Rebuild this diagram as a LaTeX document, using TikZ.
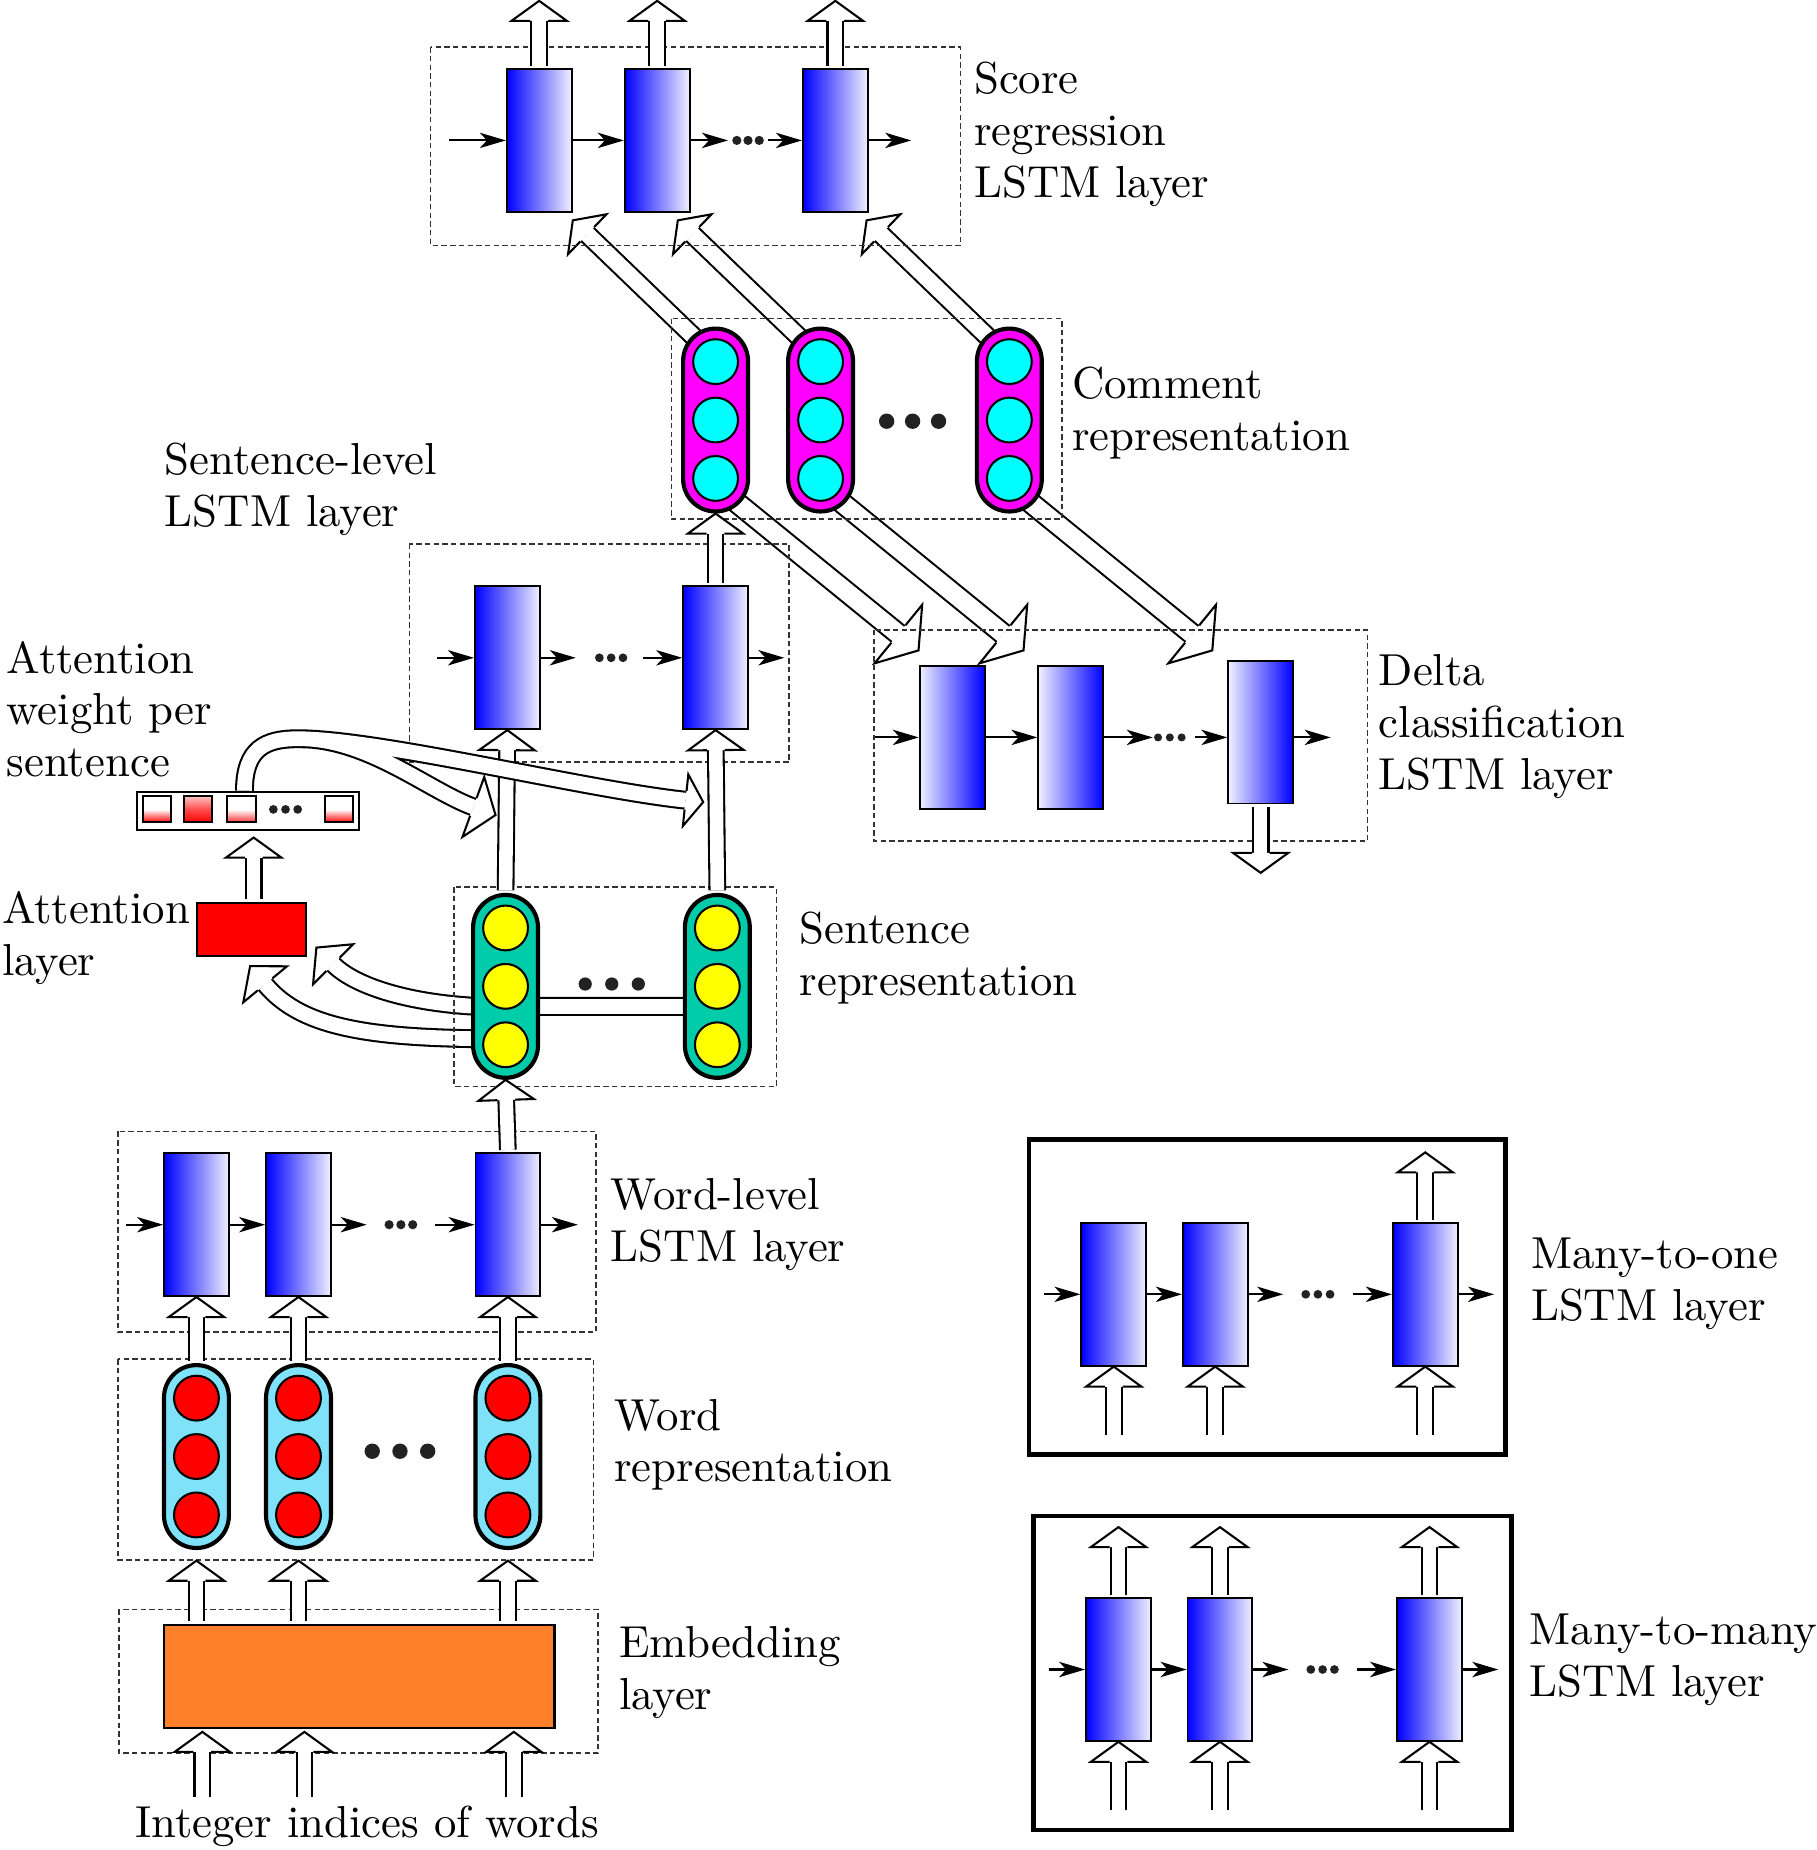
\documentclass[tikz,border=0pt]{standalone}
\usepackage{tikz}
\usetikzlibrary{positioning,calc,arrows.meta,backgrounds}

\definecolor{pillmag}{RGB}{255,0,255}
\definecolor{unitcyan}{RGB}{0,255,255}
\definecolor{pillgreen}{RGB}{0,204,170}
\definecolor{unityellow}{RGB}{255,255,0}
\definecolor{pillblue}{RGB}{128,226,248}
\definecolor{unitred}{RGB}{255,0,0}
\definecolor{embor}{RGB}{255,128,42}
\definecolor{dotgray}{RGB}{34,34,34}

\tikzset{
  lstmcell/.style={draw, line width=0.45pt, minimum width=5.5mm, minimum height=12.1mm, inner sep=0pt, left color=blue, right color=blue!6},
  deltacell/.style={lstmcell, left color=blue!6, right color=blue},
  vecpill/.style={draw, line width=1pt, rounded corners=2.75mm, minimum width=5.5mm, minimum height=15.5mm, inner sep=0pt, fill=#1},
  neuron/.style={circle, draw, line width=0.5pt, minimum size=3.8mm, inner sep=0pt, fill=#1},
  groupbox/.style={draw=black!80, line width=0.4pt, dash pattern=on 1.3pt off 0.8pt},
  framebox/.style={draw, line width=1.1pt},
  flow/.style={line width=0.5pt, -{Stealth[length=2.2mm, width=1.3mm, inset=0.6mm]}},
  lbl/.style={font=\fontsize{10.8pt}{12.5pt}\selectfont, align=left, inner sep=0pt},
  wsq/.style={draw, line width=0.5pt, minimum width=2.4mm, minimum height=2.2mm, inner sep=0pt},
}

\newcommand{\shaftw}{0.75mm}
\newcommand{\headw}{2.35mm}
\newcommand{\headl}{1.7mm}
\newcommand{\hollowhead}[2]{%
  \coordinate (hb) at ($(#1)!\headl!(#2)$);
  \path[draw, fill=white, line width=0.5pt]
    ($(hb)!\shaftw!90:(#2)$) -- ($(hb)!\headw!90:(#2)$) -- (#1)
    -- ($(hb)!\headw!-90:(#2)$) -- ($(hb)!\shaftw!-90:(#2)$);
}
\newcommand{\hollowarrow}[2]{%
  \coordinate (hb) at ($(#2)!\headl!(#1)$);
  \draw[line width=2*\shaftw, shorten <=0.6pt] (#1) -- (hb);
  \draw[white, line width=2*\shaftw-1pt, shorten <=0.6pt] (#1) -- (hb);
  \hollowhead{#2}{#1}}

\begin{document}
\begin{tikzpicture}[x=0.1mm, y=0.1mm]
\useasboundingbox (0,0) rectangle (1540,-1568);

% layer frames
\draw[groupbox] (365,-40) rectangle (814,-208);
\draw[groupbox] (569,-270) rectangle (900,-440);
\draw[groupbox] (347,-461) rectangle (669,-646);
\draw[groupbox] (741,-534) rectangle (1159,-713);
\draw[groupbox] (385,-752) rectangle (658,-921);
\draw[groupbox] (100,-959) rectangle (505,-1129);
\draw[groupbox] (100,-1152) rectangle (503,-1322);
\draw[groupbox] (101,-1364) rectangle (507,-1486);
\draw[framebox] (872,-966) rectangle (1276,-1233);
\draw[framebox] (876,-1285) rectangle (1281,-1551);

% score regression LSTM layer
\node[lstmcell] (s1) at (457,-119) {};
\node[lstmcell] (s2) at (557,-119) {};
\node[lstmcell] (s3) at (708,-119) {};
\coordinate (sdots) at (634,-119);
\foreach \d in {-1,0,1} \fill[dotgray] ($(sdots)+(\d*9.5,0)$) circle (0.39mm);
\draw[flow] ($(s1.west)+(-48,0)$) -- (s1.west);
\draw[flow] (s1.east) -- (s2.west);
\draw[flow] (s2.east) -- ($(sdots)+(-17,0)$);
\draw[flow] ($(sdots)+(17,0)$) -- (s3.west);
\draw[flow] (s3.east) -- ++(36,0);

% comment representation
\node[vecpill=pillmag] (c1) at (606.5,-356) {};
\node[vecpill=pillmag] (c2) at (695.5,-356) {};
\node[vecpill=pillmag] (c3) at (855.5,-356) {};
\foreach \v in {c1,c2,c3} \foreach \k in {1,2,3}
  \node[neuron=unitcyan] (\v u\k) at ($(\v.center)+(0,{99-49.5*\k})$) {};
\coordinate (cdots) at (773.5,-357);
\foreach \d in {-1,0,1} \fill[dotgray] ($(cdots)+(\d*22,0)$) circle (0.65mm);

% sentence-level LSTM layer
\node[lstmcell] (sA) at (430,-557.5) {};
\node[lstmcell] (sB) at (606.5,-557.5) {};
\coordinate (sldots) at (518,-557.5);
\foreach \d in {-1,0,1} \fill[dotgray] ($(sldots)+(\d*10,0)$) circle (0.37mm);
\draw[flow] ($(sA.west)+(-31,0)$) -- (sA.west);
\draw[flow] (sA.east) -- ($(sldots)+(-30,0)$);
\draw[flow] ($(sldots)+(27,0)$) -- (sB.west);
\draw[flow] (sB.east) -- ++(30,0);

% delta classification LSTM layer
\node[deltacell] (d1) at (807,-625) {};
\node[deltacell] (d2) at (907.5,-625) {};
\node[deltacell] (d3) at (1068.5,-620.5) {};
\coordinate (ddots) at (991.5,-625);
\foreach \d in {-1,0,1} \fill[dotgray] ($(ddots)+(\d*10,0)$) circle (0.34mm);
\draw[flow] ($(d1.west)+(-37,0)$) -- (d1.west);
\draw[flow] (d1.east) -- (d2.west);
\draw[flow] (d2.east) -- ($(ddots)+(-14.5,0)$);
\draw[flow] ($(ddots)+(21.5,0)$) -- (d3.west |- ddots);
\draw[flow] (d3.east |- ddots) -- ++(31,0);

% sentence representation
\node[vecpill=pillgreen] (pA) at (428.5,-836) {};
\node[vecpill=pillgreen] (pB) at (608,-836) {};
\foreach \v in {pA,pB} \foreach \k in {1,2,3}
  \node[neuron=unityellow] (\v u\k) at ($(\v.center)+(0,{99-49.5*\k})$) {};
\coordinate (pdots) at (518.5,-834);
\foreach \d in {-1,0,1} \fill[dotgray] ($(pdots)+(\d*22.5,0)$) circle (0.56mm);

% attention
\node[draw, line width=0.5pt, fill=red, minimum width=9.26mm, minimum height=4.53mm, inner sep=0pt] (attn) at (213,-787.6) {};
\node[draw, line width=0.5pt, fill=white, minimum width=18.87mm, minimum height=3.24mm, inner sep=0pt] (wbox) at (210.2,-687.2) {};
\node[wsq, top color=white, bottom color=red, middle color=white] (q1) at (133,-686) {};
\node[wsq, top color=red!25, bottom color=red, middle color=red!70] (q2) at (168,-686) {};
\node[wsq, top color=white, bottom color=red!80, middle color=white] (q3) at (204.6,-686) {};
\node[wsq, top color=white, bottom color=red, middle color=white] (q4) at (287.2,-686) {};
\coordinate (qdots) at (242,-686);
\foreach \d in {-1,0,1} \fill[dotgray] ($(qdots)+(\d*10.3,0)$) circle (0.37mm);

% word-level LSTM layer
\node[lstmcell] (w1) at (166.5,-1038) {};
\node[lstmcell] (w2) at (253,-1038) {};
\node[lstmcell] (w3) at (430.5,-1038) {};
\coordinate (wdots) at (339.8,-1038);
\foreach \d in {-1,0,1} \fill[dotgray] ($(wdots)+(\d*10,0)$) circle (0.39mm);
\draw[flow] ($(w1.west)+(-31,0)$) -- (w1.west);
\draw[flow] (w1.east) -- (w2.west);
\draw[flow] (w2.east) -- ($(wdots)+(-29,0)$);
\draw[flow] ($(wdots)+(29,0)$) -- (w3.west);
\draw[flow] (w3.east) -- ++(31,0);

% word representation
\node[vecpill=pillblue] (p1) at (166.5,-1234.5) {};
\node[vecpill=pillblue] (p2) at (253,-1234.5) {};
\node[vecpill=pillblue] (p3) at (430.5,-1234.5) {};
\foreach \v in {p1,p2,p3} \foreach \k in {1,2,3}
  \node[neuron=unitred] (\v u\k) at ($(\v.center)+(0,{99-49.5*\k})$) {};
\coordinate (rdots) at (339,-1230);
\foreach \d in {-1,0,1} \fill[dotgray] ($(rdots)+(\d*23.5,0)$) circle (0.65mm);

% embedding layer
\node[draw, line width=0.5pt, fill=embor, minimum width=33.1mm, minimum height=8.75mm, inner sep=0pt] (emb) at (304.5,-1420.75) {};

% many-to-one
\node[lstmcell] (m1) at (944,-1097) {};
\node[lstmcell] (m2) at (1030,-1097) {};
\node[lstmcell] (m3) at (1208,-1097) {};
\coordinate (odots) at (1117,-1097);
\foreach \d in {-1,0,1} \fill[dotgray] ($(odots)+(\d*10.3,0)$) circle (0.37mm);
\draw[flow] ($(m1.west)+(-31,0)$) -- (m1.west);
\draw[flow] (m1.east) -- (m2.west);
\draw[flow] (m2.east) -- ($(odots)+(-29.4,0)$);
\draw[flow] ($(odots)+(29.5,0)$) -- (m3.west);
\draw[flow] (m3.east) -- ++(30,0);

% many-to-many
\node[lstmcell] (n1) at (948,-1415) {};
\node[lstmcell] (n2) at (1034,-1415) {};
\node[lstmcell] (n3) at (1211.6,-1415) {};
\coordinate (ndots) at (1121,-1415);
\foreach \d in {-1,0,1} \fill[dotgray] ($(ndots)+(\d*10,0)$) circle (0.37mm);
\draw[flow] ($(n1.west)+(-31,0)$) -- (n1.west);
\draw[flow] (n1.east) -- (n2.west);
\draw[flow] (n2.east) -- ($(ndots)+(-29,0)$);
\draw[flow] ($(ndots)+(29,0)$) -- (n3.west);
\draw[flow] (n3.east) -- ++(30,0);

% vertical hollow arrows
\foreach \c in {s1,s2,s3} {\coordinate (\c out) at ($(\c.north)+(0,57)$); \hollowarrow{\c.north}{\c out}}
\hollowarrow{pA.north}{sA.south}
\hollowarrow{pB.north}{sB.south}
\hollowarrow{sB.north}{c1.south}
\hollowarrow{w3.north}{pA.south}
\foreach \i in {1,2,3} {\hollowarrow{p\i.north}{w\i.south}}
\foreach \i in {1,2,3} {
  \coordinate (e\i) at (p\i |- emb.north);
  \coordinate (pe\i) at ($(p\i.south)+(0,-9)$);
  \hollowarrow{e\i}{pe\i}
  \coordinate (ix\i) at ($(p\i |- emb.south)+(5,-2.5)$);
  \coordinate (in\i) at ($(ix\i)+(0,-57)$);
  \hollowarrow{in\i}{ix\i}}
\coordinate (aa) at ($(attn.north)+(2,0)$);
\coordinate (ab) at ($(aa |- wbox.south)+(0,-5.6)$);
\hollowarrow{aa}{ab}
\coordinate (dout) at ($(d3.south)+(0,-58)$);
\hollowarrow{d3.south}{dout}
\foreach \i in {1,2,3} {
  \coordinate (mi\i) at ($(m\i.south)+(0,-60)$);
  \hollowarrow{mi\i}{m\i.south}
  \coordinate (ni\i) at ($(n\i.south)+(0,-60)$);
  \hollowarrow{ni\i}{n\i.south}
  \coordinate (no\i) at ($(n\i.north)+(0,59.4)$);
  \hollowarrow{n\i.north}{no\i}}
\coordinate (mo) at ($(m3.north)+(0,59)$);
\hollowarrow{m3.north}{mo}

% diagonal and curved arrows behind the vectors
\begin{scope}[on background layer]
\def\shaftw{0.85mm}
\foreach \c in {c1,c2,c3} {
  \coordinate (\c b) at ($(\c.north)+(-20,-7)$);
  \coordinate (\c st) at ($(\c b)+(7,-7)$);
  \coordinate (\c sh) at ($(\c b)+(-101,97)$);
  \hollowarrow{\c st}{\c sh}}
\def\shaftw{0.95mm}\def\headw{3.2mm}\def\headl{2.2mm}
\foreach \c in {c1,c2,c3} {
  \coordinate (\c d) at ($(\c.south)+(22,6)$);
  \coordinate (\c dt) at ($(\c d)+(-8,6.5)$);
  \coordinate (\c dh) at ($(\c d)+(150,-122)$);
  \hollowarrow{\c dt}{\c dh}}
\def\shaftw{0.8mm}\def\headw{2.4mm}\def\headl{2.0mm}
\coordinate (b1s) at ($(pA.center)+(0,-17.6)$);
\coordinate (b2s) at ($(pA.center)+(0,-44.5)$);
\coordinate (cs1) at ($(pA.center)+(0,-17)$);
\coordinate (cs2) at ($(pB.center)+(0,-17)$);
\coordinate (t3) at ($(attn.south east)+(8,8)$);
\coordinate (k3) at ($(t3)+(35.4,-35.4)$);
\coordinate (a3e) at ($(t3)!\headl!(k3)$);
\coordinate (t4) at ($(attn.south)+(-1,-7.7)$);
\coordinate (k4) at ($(t4)+(44.5,-54)$);
\coordinate (a4e) at ($(t4)!\headl!(k4)$);
\def\bandpath{(b1s) .. controls +(-70,0) and (k3) .. (a3e) (b2s) .. controls +(-110,0) and (k4) .. (a4e) (cs1) -- (cs2)}
\draw[line width=2*\shaftw] \bandpath;
\draw[white, line width=2*\shaftw-1pt] \bandpath;
\hollowhead{t3}{k3}
\hollowhead{t4}{k4}
\end{scope}

% attention weights to sentence-level inputs
\begin{scope}
\def\shaftw{0.8mm}\def\headw{2.2mm}\def\headl{1.5mm}
\coordinate (wtop) at ($(wbox.north)+(-3,0)$);
\coordinate (wapex) at ($(wtop)+(45,44)$);
\coordinate (t2) at ($(sB.south)+(-10.5,-61)$);
\coordinate (k2) at ($(t2)+(-99.5,10.5)$);
\coordinate (a2e) at ($(t2)!\headl!(k2)$);
\coordinate (t1) at ($(sA.south)+(-10,-72)$);
\coordinate (k1) at ($(t1)+(-56.4,20.5)$);
\coordinate (a1e) at ($(t1)!2.0mm!(k1)$);
\def\attnpath{(wtop) .. controls +(0,36) and +(-27,0) .. (wapex) .. controls +(70,0) and (k2) .. (a2e) (wapex) .. controls +(60,0) and (k1) .. (a1e)}
\draw[line width=2*\shaftw, shorten <=0.6pt] \attnpath;
\draw[white, line width=2*\shaftw-1pt, shorten <=0.6pt] \attnpath;
\hollowhead{t2}{k2}
\def\headw{2.7mm}\def\headl{2.0mm}
\hollowhead{t1}{k1}
\end{scope}

% labels
\node[lbl, anchor=west] (lscore) at (825,-114) {Score\\regression\\LSTM layer};
\node[lbl, anchor=west] (lcomm) at (908,-350) {Comment\\representation};
\node[lbl, anchor=west] (lsent) at (139,-415) {Sentence-level\\LSTM layer};
\node[lbl, anchor=west] (lweight) at (5,-601) {Attention\\weight per\\sentence};
\node[lbl, anchor=west] (ldelta) at (1168,-616) {Delta\\classification\\LSTM layer};
\node[lbl, anchor=west] (lattn) at (1,-795) {Attention\\layer};
\node[lbl, anchor=west] (lsrep) at (677,-812) {Sentence\\representation};
\node[lbl, anchor=west] (lword) at (517,-1038) {Word-level\\LSTM layer};
\node[lbl, anchor=west] (lwrep) at (520,-1224.5) {Word\\representation};
\node[lbl, anchor=west] (lemb) at (524,-1417.5) {Embedding\\layer};
\node[lbl, anchor=west] (lmone) at (1297,-1088) {Many-to-one\\LSTM layer};
\node[lbl, anchor=west] (lmmany) at (1296,-1407) {Many-to-many\\LSTM layer};
\node[lbl] (lin) at (311,-1548) {Integer indices of words};
\end{tikzpicture}
\end{document}
